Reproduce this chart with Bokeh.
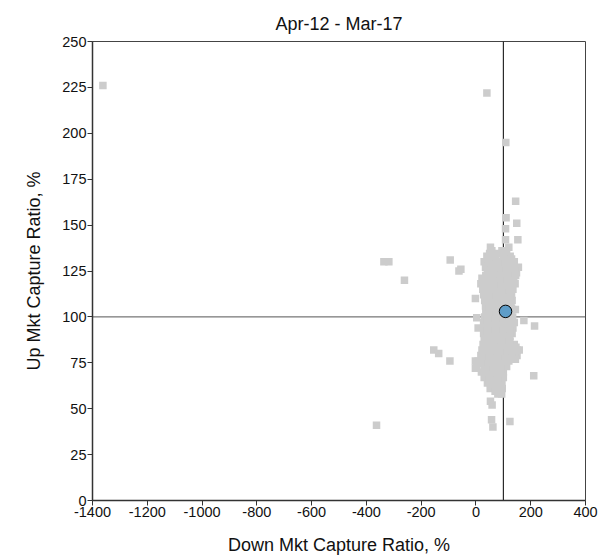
from bokeh.plotting import figure
from bokeh.models import Span, FixedTicker
from bokeh.embed import file_html
from bokeh.resources import INLINE

title_text = "Apr-12 - Mar-17"
x_label = "Down Mkt Capture Ratio, %"
y_label = "Up Mkt Capture Ratio, %"
x_ticks = [-1400, -1200, -1000, -800, -600, -400, -200, 0, 200, 400]
y_ticks = [0, 25, 50, 75, 100, 125, 150, 175, 200, 225, 250]

# scattered peer funds (down capture, up capture)
outlier_down = [-1362, 40, 109, 145, 149, 153, 110, 108, 108, 53, 120, -94, -62, -55,
                -336, -318, -261, -154, -136, -95, -363, -2, 3, 8, -2, -2, 144, 175,
                214, 211, 150, 144, 53, 59, 57, 62, 124]
outlier_up = [226, 222, 195, 163, 151, 142, 154, 148, 142, 138, 138, 131, 125, 126,
              130, 130, 120, 82, 80, 76, 41, 110, 99.5, 94, 76, 72, 104, 98,
              95, 68, 82, 77, 54, 52, 44, 40, 43]

# dense peer cluster, row by row
cluster_down = [58, 95, 112,
                40, 70, 100, 125,
                30, 55, 85, 115, 140,
                35, 62, 92, 120, 155,
                42, 70, 98, 128, 148,
                22, 50, 78, 105, 135,
                18, 45, 72, 100, 130, 143,
                25, 52, 80, 108, 135,
                28, 55, 84, 112, 130,
                32, 60, 88, 115, 132,
                35, 62, 90, 118,
                36, 64, 92, 125,
                32, 60, 88, 118, 134,
                28, 55, 84, 112, 140,
                30, 58, 86, 114, 135,
                28, 56, 84, 112, 132,
                30, 58, 86, 114,
                26, 54, 82, 110, 140,
                22, 50, 78, 106, 134, 158,
                18, 46, 74, 102, 130, 150,
                8, 36, 64, 92, 120,
                2, 30, 58, 86, 112,
                20, 48, 76, 100,
                30, 58, 86, 100,
                42, 68, 95,
                52, 78, 96,
                80, 94,
                # second, interleaved set
                50, 80, 108,
                45, 72, 100, 130,
                48, 78, 106, 135,
                55, 85, 112, 140,
                36, 64, 92, 120, 145,
                32, 60, 88, 116, 138,
                38, 66, 94, 122,
                40, 68, 96, 122,
                45, 74, 100, 124,
                48, 76, 104, 128,
                50, 78, 106, 130,
                46, 74, 104, 128,
                42, 70, 98, 126,
                44, 72, 100, 126,
                42, 70, 98, 124,
                44, 72, 100, 124,
                40, 68, 96, 124,
                36, 64, 92, 120, 146,
                32, 60, 88, 116, 140,
                22, 50, 78, 106, 132,
                16, 44, 72, 100,
                34, 62, 90,
                38, 66, 92,
                50, 78,
                60, 86,
                70, 90]
cluster_up = [136, 136, 136,
              133, 133, 133, 133,
              130, 130, 130, 130, 130,
              127, 127, 127, 127, 127,
              124, 124, 124, 124, 124,
              121, 121, 121, 121, 121,
              118, 118, 118, 118, 118, 118,
              115, 115, 115, 115, 115,
              112, 112, 112, 112, 112,
              109, 109, 109, 109, 109,
              106, 106, 106, 106,
              103, 103, 103, 103,
              100, 100, 100, 100, 100,
              97, 97, 97, 97, 97,
              94, 94, 94, 94, 94,
              91, 91, 91, 91, 91,
              88, 88, 88, 88,
              85, 85, 85, 85, 85,
              82, 82, 82, 82, 82, 82,
              79, 79, 79, 79, 79, 79,
              76, 76, 76, 76, 76,
              73, 73, 73, 73, 73,
              70, 70, 70, 70,
              67, 67, 67, 67,
              64, 64, 64,
              61, 61, 61,
              58, 58,
              # second, interleaved set
              134.5, 134.5, 134.5,
              131.5, 131.5, 131.5, 131.5,
              128.5, 128.5, 128.5, 128.5,
              125.5, 125.5, 125.5, 125.5,
              122.5, 122.5, 122.5, 122.5, 122.5,
              119.5, 119.5, 119.5, 119.5, 119.5,
              116.5, 116.5, 116.5, 116.5,
              113.5, 113.5, 113.5, 113.5,
              110.5, 110.5, 110.5, 110.5,
              107.5, 107.5, 107.5, 107.5,
              104.5, 104.5, 104.5, 104.5,
              101.5, 101.5, 101.5, 101.5,
              98.5, 98.5, 98.5, 98.5,
              95.5, 95.5, 95.5, 95.5,
              92.5, 92.5, 92.5, 92.5,
              89.5, 89.5, 89.5, 89.5,
              86.5, 86.5, 86.5, 86.5,
              83.5, 83.5, 83.5, 83.5, 83.5,
              80.5, 80.5, 80.5, 80.5, 80.5,
              77.5, 77.5, 77.5, 77.5, 77.5,
              74.5, 74.5, 74.5, 74.5,
              71.5, 71.5, 71.5,
              68.5, 68.5, 68.5,
              65.5, 65.5,
              62.5, 62.5,
              59.5, 59.5]

fund_down = [108]
fund_up = [103]

FONT = "Liberation Sans"

p = figure(width=610, height=560, output_backend="svg", toolbar_location=None,
           x_range=(-1400, 400), y_range=(0, 250),
           min_border_left=92, min_border_right=25, min_border_top=41, min_border_bottom=60)

p.title.text = title_text
p.title.align = "center"
p.title.text_font = FONT
p.title.text_font_size = "18px"
p.title.text_font_style = "normal"
p.title.text_color = "#111111"
p.title.standoff = 16

p.xgrid.visible = False
p.ygrid.visible = False
p.outline_line_color = "#444444"
p.outline_line_width = 1
p.background_fill_color = "white"
p.border_fill_color = "white"

for ax, ticks in ((p.xaxis[0], x_ticks), (p.yaxis[0], y_ticks)):
    ax.ticker = FixedTicker(ticks=ticks)
    ax.major_label_overrides = {t: str(t) for t in ticks}
    ax.minor_tick_line_color = None
    ax.major_tick_in = 0
    ax.major_tick_out = 5
    ax.major_label_standoff = 1
    ax.axis_line_color = "#333333"
    ax.axis_line_width = 1.5
    ax.major_tick_line_color = "#333333"
    ax.major_label_text_font = FONT
    ax.major_label_text_font_size = "14.5px"
    ax.major_label_text_color = "#111111"
    ax.axis_label_text_font = FONT
    ax.axis_label_text_font_size = "18px"
    ax.axis_label_text_font_style = "normal"
    ax.axis_label_text_color = "#111111"

p.xaxis[0].axis_label = x_label
p.yaxis[0].axis_label = y_label
p.xaxis[0].axis_label_standoff = 15
p.yaxis[0].axis_label_standoff = 15

p.add_layout(Span(location=100, dimension="height", line_color="black",
                  line_width=1, level="underlay"))
p.add_layout(Span(location=100, dimension="width", line_color="#555555",
                  line_width=1, level="underlay"))

p.scatter(cluster_down, cluster_up, marker="square", size=7.5,
          fill_color="#cccccc", line_color=None)
p.scatter(outlier_down, outlier_up, marker="square", size=7.5,
          fill_color="#cccccc", line_color=None)
p.scatter(fund_down, fund_up, marker="circle", size=12.5,
          fill_color="#5f9dc8", line_color="black", line_width=1)

open("out.html", "w").write(file_html(p, INLINE))
